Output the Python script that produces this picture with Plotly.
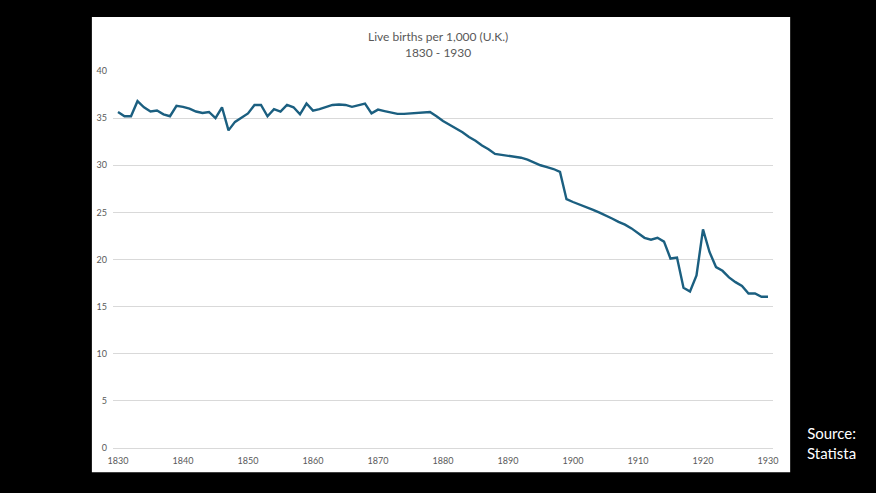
import plotly.graph_objects as go

# Live births per 1,000 (U.K.)
years = list(range(1830, 1931))
births = [
    35.65, 35.2, 35.2, 36.8, 36.15, 35.7, 35.8, 35.4, 35.2, 36.3,   # 1830s
    36.2, 36.0, 35.7, 35.55, 35.65, 35.0, 36.15, 33.7, 34.6, 35.05,  # 1840s
    35.5, 36.4, 36.4, 35.2, 35.95, 35.7, 36.4, 36.15, 35.4, 36.55,   # 1850s
    35.8, 35.95, 36.2, 36.4, 36.45, 36.4, 36.2, 36.4, 36.55, 35.5,   # 1860s
    35.9, 35.75, 35.6, 35.45, 35.45, 35.5, 35.55, 35.55, 35.65, 35.2,  # 1870s
    34.7, 34.3, 33.9, 33.5, 33.0, 32.6, 32.1, 31.7, 31.2, 31.1,      # 1880s
    31.0, 30.9, 30.8, 30.6, 30.3, 30.0, 29.8, 29.6, 29.3, 26.4,      # 1890s
    26.1, 25.85, 25.55, 25.3, 25.0, 24.7, 24.35, 24.0, 23.7, 23.3,   # 1900s
    22.8, 22.3, 22.1, 22.3, 21.9, 20.1, 20.2, 17.0, 16.6, 18.3,      # 1910s
    23.2, 20.8, 19.2, 18.8, 18.1, 17.6, 17.2, 16.4, 16.4, 16.05,     # 1920s
    16.05,                                                           # 1930
]
x_ticks = list(range(1830, 1931, 10))
y_ticks = [0, 5, 10, 15, 20, 25, 30, 35, 40]

fig = go.Figure(go.Scatter(
    x=years, y=births, mode="lines",
    line=dict(color="#1b5f80", width=2.4),
    hoverinfo="x+y",
))

# white chart card on the black slide
fig.add_shape(type="rect", xref="paper", yref="paper",
              x0=-0.032, x1=1.026, y0=-0.064, y1=1.143,
              fillcolor="white", line=dict(width=0), layer="below")

fig.add_annotation(text="Live births per 1,000 (U.K.)<br>1830 - 1930",
                   xref="paper", yref="paper", x=0.492, y=1.071,
                   xanchor="center", yanchor="middle", showarrow=False,
                   font=dict(family="Lato", size=12, color="#595959"))

fig.add_annotation(text="Source:<br>Statista",
                   xref="paper", yref="paper", x=1.089, y=0.013,
                   xanchor="center", yanchor="middle", showarrow=False,
                   font=dict(family="Lato", size=15, color="white"))

fig.update_layout(
    width=876, height=493,
    margin=dict(l=113, r=103, t=71, b=45),
    paper_bgcolor="black", plot_bgcolor="white",
    showlegend=False,
    font=dict(family="Lato", size=9, color="#595959"),
)
fig.update_xaxes(range=[1829.23, 1930.77], tickvals=x_ticks,
                 showgrid=False, zeroline=False, showline=False,
                 ticks="", ticklabelstandoff=6)
fig.update_yaxes(range=[0, 40], tickvals=y_ticks,
                 gridcolor="#d9d9d9", gridwidth=1,
                 zeroline=True, zerolinecolor="#d9d9d9", zerolinewidth=1,
                 showline=False, ticks="", ticklabelstandoff=5)

# drop the default page margin so the figure fills the window
fig.write_html("out.html", config={"displayModeBar": False},
               post_script="document.body.style.margin='0';"
                           "document.body.style.background='black';")
